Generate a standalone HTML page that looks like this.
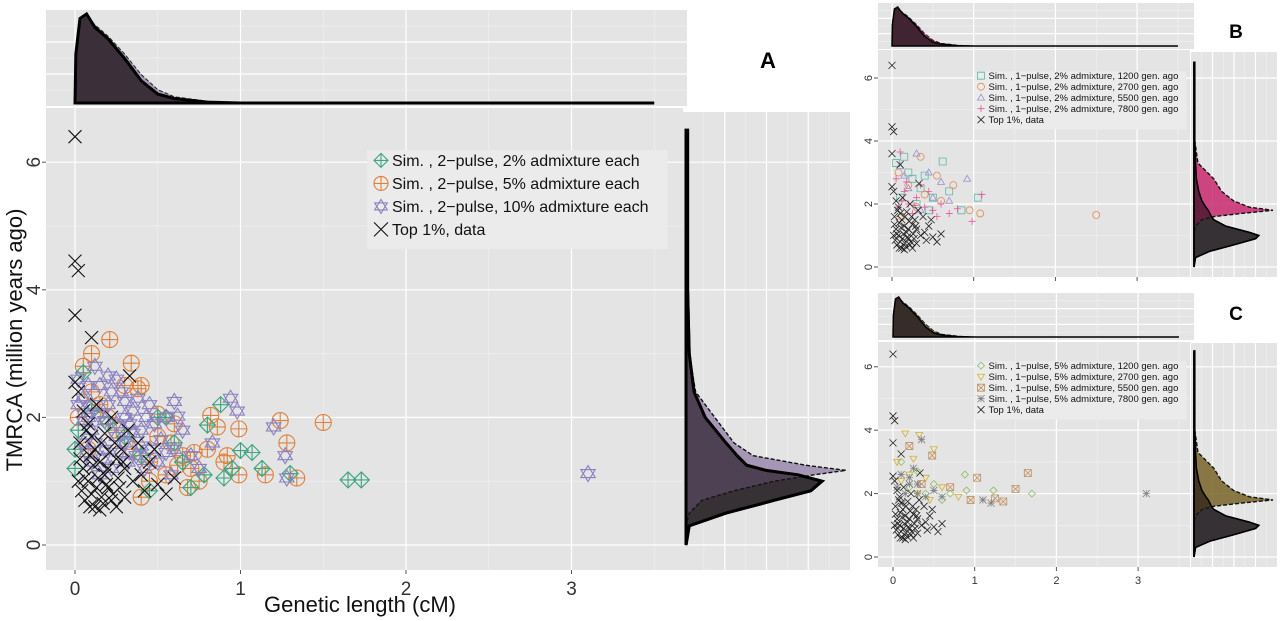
<!DOCTYPE html>
<html><head><meta charset="utf-8"><style>
body{margin:0;background:#fff;}
svg{display:block;font-family:"Liberation Sans",sans-serif;}
</style></head><body>
<svg id="fig" width="1280" height="621" viewBox="0 0 1280 621" xmlns="http://www.w3.org/2000/svg"></svg>
<script>
// ---------- DATA ----------
const dataPts=[[0,6.4],[0,4.45],[0.02,4.3],[0,3.6],[0.1,3.25],[0.33,2.65],[0,2.55],[0.02,2.4],[0.05,2.1],[0.08,1.9],[0.1,1.7],[0.12,1.5],[0.15,1.3],[0.18,1.1],[0.2,0.9],[0.22,0.7],[0.25,0.6],[0.05,1.2],[0.08,1.0],[0.1,0.8],[0.12,0.6],[0.15,0.55],[0.3,1.2],[0.35,1.0],[0.28,1.5],[0.32,1.8],[0.4,1.1],[0.45,1.3],[0.5,0.95],[0.55,0.8],[0.6,1.05],[0.03,1.6],[0.06,0.7],[0.18,1.75],[0.22,2.0],[0.25,1.35],[0.02,1.0],[0.13,2.2],[0.38,1.6],[0.17,0.65],[0.27,0.9],[0.09,1.4],[0.2,1.2],[0.14,1.05],[0.24,1.6],[0.04,0.85],[0.3,0.75],[0.42,0.85],[0.48,1.5],[0.19,0.95],[0.11,1.25],[0.07,1.8],[0.16,0.75],[0.26,1.05],[0.09,0.6],[0.21,1.45],[0.03,1.35],[0.13,0.9],[0.23,0.8],[0.06,1.05],[0.16,1.6],[0.29,1.3]];
const aPurple=[[0.02,2.6],[0.05,2.3],[0.08,2.0],[0.1,1.8],[0.15,2.5],[0.2,2.2],[0.25,1.9],[0.3,1.6],[0.35,2.1],[0.4,1.8],[0.45,1.5],[0.5,1.3],[0.55,2.0],[0.12,2.8],[0.18,1.5],[0.22,1.2],[0.28,2.4],[0.32,1.3],[0.38,2.3],[0.42,1.2],[0.05,1.6],[0.1,1.3],[0.15,1.1],[0.6,1.5],[0.65,1.8],[0.7,1.4],[0.75,1.2],[0.08,2.5],[0.25,2.6],[0.48,1.9],[0.62,2.02],[0.58,1.1],[0.94,2.3],[0.98,2.1],[0.6,2.25],[1.2,1.85],[1.27,1.4],[1.28,1.05],[3.1,1.12],[0.83,1.6],[0.18,1.95],[0.3,2.0],[0.12,1.6],[0.4,1.55],[0.05,1.95],[0.1,2.2],[0.2,2.65],[0.3,2.25],[0.35,1.75],[0.45,2.2],[0.52,1.65],[0.07,1.45],[0.17,1.35],[0.27,1.45],[0.37,1.4],[0.22,2.4],[0.14,2.05],[0.33,1.9],[0.43,2.0],[0.55,1.45],[0.02,2.2],[0.25,1.7]];
const aOrange=[[0.05,2.8],[0.1,2.4],[0.15,2.2],[0.2,2.0],[0.25,1.8],[0.3,2.5],[0.35,1.5],[0.4,2.5],[0.45,1.3],[0.5,1.7],[0.6,1.9],[0.65,1.4],[0.7,1.2],[0.75,1.0],[0.8,1.5],[0.68,0.9],[0.55,1.1],[0.02,2.0],[0.08,1.5],[0.9,1.3],[0.92,1.4],[0.21,3.22],[0.1,3.0],[0.34,2.85],[1.5,1.92],[1.24,1.95],[1.28,1.6],[1.34,1.05],[0.99,1.82],[0.86,1.85],[0.82,2.03],[0.99,1.1],[1.15,1.1],[0.4,0.75],[0.38,2.45],[0.5,2.05],[0.58,1.6],[0.62,1.25],[0.72,1.45],[0.45,1.0]];
const aGreen=[[0,1.5],[0.02,1.8],[0.05,2.7],[0.1,2.1],[0.2,1.9],[0.3,1.7],[0.4,1.4],[0.5,2.0],[0.6,1.6],[0.65,1.3],[0.78,1.1],[0.9,1.05],[0.95,1.2],[0,1.2],[0.45,0.85],[1.65,1.02],[1.73,1.02],[0.88,2.2],[0.8,1.88],[1.0,1.48],[1.07,1.45],[1.13,1.2],[1.3,1.12],[0.7,0.9],[0.55,2.0]];
const bTeal=[[0.05,3.3],[0.15,3.5],[0.25,2.8],[0.35,2.5],[0.5,2.2],[0.62,3.35],[0.7,2.4],[1.05,2.2],[0.85,1.8],[0.1,2.2],[0.3,2.0],[0.45,1.8],[0.2,3.0],[0.4,2.9]];
const bOrange=[[0.08,3.0],[0.2,2.6],[0.4,2.3],[0.55,2.9],[0.75,2.6],[0.95,1.8],[1.08,1.7],[2.5,1.65],[0.3,1.9],[0.12,1.6],[0.6,2.1],[0.35,3.5]];
const bPurple=[[0.1,3.2],[0.3,3.6],[0.45,3.0],[0.6,2.7],[0.92,2.8],[0.2,2.5],[0.5,2.2],[0.7,2.1],[0.35,1.8],[0.15,2.9]];
const bPink=[[0.1,3.65],[0.05,2.8],[0.15,2.4],[0.2,2.0],[0.3,2.2],[0.4,1.9],[0.5,1.8],[0.6,2.0],[0.7,1.7],[0.8,1.85],[0.98,1.45],[1.1,2.3],[0.25,1.7],[0.12,2.1],[0.35,2.6],[0.45,2.4],[0.08,1.9],[0.18,2.7],[0.28,1.95],[0.55,1.6]];
const cGreen=[[0.1,3.0],[0.3,2.7],[0.5,2.3],[0.7,2.0],[0.88,2.6],[0.9,2.1],[1.23,2.1],[1.7,2.0],[0.2,2.2],[0.6,1.8],[0.4,2.0]];
const cYellow=[[0.15,3.9],[0.32,3.85],[0.5,3.4],[0.05,3.0],[0.2,2.6],[0.4,2.5],[0.6,2.2],[0.8,1.9],[0.3,2.0],[0.1,2.4],[0.45,1.8],[0.25,3.1]];
const cBrown=[[0.2,3.5],[0.48,3.2],[1.03,2.5],[1.65,2.65],[1.5,2.15],[1.25,1.85],[1.35,1.75],[0.7,2.2],[0.35,2.3],[0.95,1.8]];
const cGrey=[[0.1,2.6],[0.2,2.3],[0.3,2.0],[0.4,1.9],[0.15,2.0],[0.25,2.8],[0.05,2.2],[0.5,2.1],[0.35,3.7],[1.1,1.8],[1.2,1.7],[3.1,2.0],[0.6,1.9],[0.12,1.7],[0.2,2.5],[0.3,2.3]];
const topX=[0,0.005,0.03,0.07,0.12,0.2,0.3,0.4,0.5,0.6,0.8,1,3.5];
const topDataD=[0,0.55,0.95,1,0.85,0.72,0.5,0.25,0.1,0.05,0.01,0,0];
const topSimD=[0,0.6,0.9,0.96,0.88,0.75,0.55,0.32,0.15,0.07,0.02,0,0];
const rY=[0,0.3,0.5,0.7,0.85,1.0,1.1,1.17,1.25,1.4,1.6,2.0,2.4,3,4,6.5];
const rDataA=[0,0.02,0.25,0.55,0.78,0.85,0.7,0.5,0.38,0.32,0.25,0.12,0.05,0.02,0.01,0.01];
const rSimA=[0,0,0.02,0.1,0.3,0.55,0.8,1,0.75,0.42,0.3,0.18,0.06,0.02,0.01,0];
const rYB=[0,0.3,0.5,0.7,0.9,1.0,1.1,1.3,1.5,1.6,1.7,1.8,1.9,2.1,2.4,2.8,3.3,4,6.5];
const rDataB=[0,0.02,0.2,0.5,0.78,0.82,0.7,0.4,0.25,0.22,0.2,0.18,0.15,0.1,0.06,0.03,0.02,0.01,0.01];
const rSimB=[0,0,0,0,0,0,0,0.02,0.1,0.25,0.6,1,0.7,0.5,0.35,0.25,0.05,0.01,0];
const legA=["Sim. , 2\u2212pulse, 2% admixture each","Sim. , 2\u2212pulse, 5% admixture each","Sim. , 2\u2212pulse, 10% admixture each","Top 1%, data"];
const legB=["Sim. , 1\u2212pulse, 2% admixture, 1200 gen. ago","Sim. , 1\u2212pulse, 2% admixture, 2700 gen. ago","Sim. , 1\u2212pulse, 2% admixture, 5500 gen. ago","Sim. , 1\u2212pulse, 2% admixture, 7800 gen. ago","Top 1%, data"];
const legC=["Sim. , 1\u2212pulse, 5% admixture, 1200 gen. ago","Sim. , 1\u2212pulse, 5% admixture, 2700 gen. ago","Sim. , 1\u2212pulse, 5% admixture, 5500 gen. ago","Sim. , 1\u2212pulse, 5% admixture, 7800 gen. ago","Top 1%, data"];
const xTicks=[0,1,2,3], yTicks=[0,2,4,6];

// ---------- DRAW ----------
const NS="http://www.w3.org/2000/svg", svg=document.getElementById('fig');
function E(tag,at,par){const e=document.createElementNS(NS,tag);for(const k in at)e.setAttribute(k,at[k]);(par||svg).appendChild(e);return e;}
function marker(g,shape,cx,cy,r,col,sw){
  let d;
  if(shape==='xx')d=`M${cx-r},${cy-r}L${cx+r},${cy+r}M${cx-r},${cy+r}L${cx+r},${cy-r}`;
  else if(shape==='dplus')d=`M${cx},${cy-r}L${cx+r},${cy}L${cx},${cy+r}L${cx-r},${cy}ZM${cx},${cy-r}V${cy+r}M${cx-r},${cy}H${cx+r}`;
  else if(shape==='oplus')d=`M${cx-r},${cy}a${r},${r} 0 1,0 ${2*r},0a${r},${r} 0 1,0 ${-2*r},0M${cx},${cy-r}V${cy+r}M${cx-r},${cy}H${cx+r}`;
  else if(shape==='star'){const h=r*0.9;d=`M${cx},${cy-r}L${cx+h},${cy+r*0.5}L${cx-h},${cy+r*0.5}ZM${cx},${cy+r}L${cx+h},${cy-r*0.5}L${cx-h},${cy-r*0.5}Z`;}
  else if(shape==='sq')d=`M${cx-r},${cy-r}h${2*r}v${2*r}h${-2*r}Z`;
  else if(shape==='sqx')d=`M${cx-r},${cy-r}h${2*r}v${2*r}h${-2*r}ZM${cx-r},${cy-r}L${cx+r},${cy+r}M${cx-r},${cy+r}L${cx+r},${cy-r}`;
  else if(shape==='o')d=`M${cx-r},${cy}a${r},${r} 0 1,0 ${2*r},0a${r},${r} 0 1,0 ${-2*r},0`;
  else if(shape==='tri')d=`M${cx},${cy-r}L${cx+r},${cy+r*0.7}L${cx-r},${cy+r*0.7}Z`;
  else if(shape==='tridn')d=`M${cx},${cy+r}L${cx+r},${cy-r*0.7}L${cx-r},${cy-r*0.7}Z`;
  else if(shape==='plus')d=`M${cx},${cy-r}V${cy+r}M${cx-r},${cy}H${cx+r}`;
  else if(shape==='dia')d=`M${cx},${cy-r}L${cx+r},${cy}L${cx},${cy+r}L${cx-r},${cy}Z`;
  else d=`M${cx-r},${cy-r}L${cx+r},${cy+r}M${cx-r},${cy+r}L${cx+r},${cy-r}M${cx},${cy-r}V${cy+r}M${cx-r},${cy}H${cx+r}`;
  return E('path',{d:d,stroke:col,'stroke-width':sw,fill:'none'},g);
}
function panel(P){
  const sx=v=>P.x0+v*P.kx, sy=v=>P.y0-v*P.ky;
  const bg=E('rect',{x:P.L,y:P.T,width:P.R-P.L,height:P.B-P.T,fill:'#e4e4e4'});
  
  
  for(let v=0.5;v<3.6;v+=1)E('line',{x1:sx(v),x2:sx(v),y1:P.T,y2:P.B,stroke:'#f2f2f2','stroke-width':0.6});
  for(let v=1;v<7;v+=2)E('line',{x1:P.L,x2:P.R,y1:sy(v),y2:sy(v),stroke:'#f2f2f2','stroke-width':0.6});
  xTicks.forEach(t=>{E('line',{x1:sx(t),x2:sx(t),y1:P.T,y2:P.B,stroke:'#fff','stroke-width':1.2});E('line',{x1:sx(t),x2:sx(t),y1:P.B,y2:P.B+4,stroke:'#555'});
    if(P.xlab){const tx=E('text',{x:sx(t),y:P.B+P.fs+6,'text-anchor':'middle','font-size':P.fs,fill:'#333'});tx.textContent=t;
    
    }});
  yTicks.forEach(t=>{E('line',{x1:P.L,x2:P.R,y1:sy(t),y2:sy(t),stroke:'#fff','stroke-width':1.2});E('line',{x1:P.L-4,x2:P.L,y1:sy(t),y2:sy(t),stroke:'#555'});
    const tx=E('text',{x:P.L-6,y:sy(t),'text-anchor':'middle','font-size':P.fs,fill:'#333',transform:`rotate(-90 ${P.L-6} ${sy(t)})`});tx.textContent=t;
    
    });
  P.series.forEach(s=>{const g=E('g',{});
    
    
    s.pts.forEach(p=>marker(g,s.shape,sx(p[0]),sy(p[1]),s.r||P.r,s.col,P.sw));});
  const lg=E('g',{});
  
  
  E('rect',{x:P.lx-P.lh*0.6,y:P.ly-P.lh*0.7,width:P.lw,height:P.lh*P.leg.length+P.lh*0.3,fill:'#ebebeb'},lg);
  P.leg.forEach((t,i)=>{const s=P.legSeries[i];const yy=P.ly+i*P.lh;
    marker(lg,s.shape,P.lx,yy-P.lfs*0.35,P.lr,s.col,P.sw);
    const tx=E('text',{x:P.lx+P.lr+4,y:yy,'font-size':P.lfs,fill:'#111'},lg);tx.textContent=t;
    
    });
  const tg=E('g',{});
  
  
  E('rect',{x:P.L,y:P.tT,width:P.R-P.L+4,height:P.tB-P.tT,fill:'#e4e4e4'},tg);
  [0.5,1.5,2.5,3.5].forEach(v=>E('line',{x1:sx(v),x2:sx(v),y1:P.tT,y2:P.tB,stroke:'#f2f2f2','stroke-width':0.6},tg));
  xTicks.forEach(t=>E('line',{x1:sx(t),x2:sx(t),y1:P.tT,y2:P.tB,stroke:'#fff','stroke-width':1.2},tg));
  for(let i=1;i<6;i++){const yy=P.tT+(P.tB-P.tT)*i/6;E('line',{x1:P.L,x2:P.R+4,y1:yy,y2:yy,stroke:i%2?'#f2f2f2':'#fff','stroke-width':i%2?0.6:1.2},tg);}
  const base=P.tB-3, hh=base-P.tT-4;
  const tp=d=>'M'+topX.map((x,i)=>`${sx(x)},${base-d[i]*hh}`).join('L')+'Z';
  E('path',{d:tp(topSimD),fill:P.simFill,stroke:'#222','stroke-width':1,'stroke-dasharray':'4 2'},tg);
  E('path',{d:tp(topDataD),fill:'rgba(40,30,35,0.85)',stroke:'#000','stroke-width':P.lwid},tg);
  const rg=E('g',{});
  
  
  E('rect',{x:P.rL,y:P.rT,width:P.rR-P.rL,height:P.B-P.rT,fill:'#e4e4e4'},rg);
  for(let i=1;i<8;i++){const xx=P.rL+(P.rR-P.rL)*i/8;E('line',{x1:xx,x2:xx,y1:P.rT,y2:P.B,stroke:i%2?'#f2f2f2':'#fff','stroke-width':i%2?0.6:1.2},rg);}
  yTicks.forEach(t=>E('line',{x1:P.rL,x2:P.rR,y1:sy(t),y2:sy(t),stroke:'#fff','stroke-width':1.2},rg));
  const bx=P.rL+3, ww=P.rR-bx-4;
  const rp=(ys,d)=>`M${bx},${sy(ys[0])}L`+ys.map((y,i)=>`${bx+d[i]*ww},${sy(y)}`).join('L')+`L${bx},${sy(ys[ys.length-1])}Z`;
  E('path',{d:rp(P.rY,P.rData),fill:'#555',stroke:'#000','stroke-width':P.lwid},rg);
  E('path',{d:rp(P.rY,P.rSim),fill:P.simFill,stroke:'#111','stroke-width':1.4,'stroke-dasharray':'4 2'},rg);
  E('path',{d:rp(P.rY,P.rData),fill:'rgba(30,20,25,0.55)',stroke:'#000','stroke-width':P.lwid},rg);
  E('line',{x1:bx,x2:bx,y1:sy(0),y2:sy(6.5),stroke:'#000','stroke-width':P.lwid},rg);
  const lab=E('text',{x:P.labX,y:P.labY,'font-size':P.labFs,'font-weight':'bold','text-anchor':'middle',fill:'#000'});lab.textContent=P.id;
  
  
}
const sA=[{name:'series-2pct',shape:'dplus',col:'#3aa57f',pts:aGreen},{name:'series-5pct',shape:'oplus',col:'#e0803a',pts:aOrange},{name:'series-10pct',shape:'star',col:'#8a80c0',pts:aPurple},{name:'series-data',shape:'xx',col:'#111',pts:dataPts,r:6.5}];
panel({id:'A',L:46,R:683,T:108,B:570,x0:75,kx:165.5,y0:545,ky:63.8,fs:19,xlab:true,r:8,sw:1.1,
 series:[sA[1],sA[0],sA[2],sA[3]],leg:legA,legSeries:sA,lx:381,ly:166,lh:23,lw:300,lfs:16,lr:7,
 tT:10,tB:106,simFill:'rgba(150,130,170,0.8)',lwid:3,rL:683,rR:850,rT:112,rY:rY,rData:rDataA,rSim:rSimA,labX:768,labY:68,labFs:22});
const xl=E('text',{x:360,y:612,'text-anchor':'middle','font-size':22,fill:'#111'});xl.textContent='Genetic length (cM)';


const yl=E('text',{x:22,y:340,'text-anchor':'middle','font-size':22,fill:'#111',transform:'rotate(-90 22 340)'});yl.textContent='TMRCA (million years ago)';


const sB=[{name:'series-1200',shape:'sq',col:'#5bb9a8',pts:bTeal},{name:'series-2700',shape:'o',col:'#e08a4a',pts:bOrange},{name:'series-5500',shape:'tri',col:'#9990cc',pts:bPurple},{name:'series-7800',shape:'plus',col:'#e8559a',pts:bPink},{name:'series-data',shape:'xx',col:'#222',pts:dataPts}];
panel({id:'B',L:878,R:1190,T:50,B:277,x0:892,kx:81.7,y0:267,ky:31.5,fs:11,xlab:false,r:3.5,sw:0.8,
 series:sB,leg:legB,legSeries:sB,lx:981,ly:79,lh:11,lw:212,lfs:9.5,lr:3.5,
 tT:3,tB:49,simFill:'rgba(200,40,110,0.85)',lwid:1.5,rL:1191,rR:1277,rT:52,rY:rYB,rData:rDataB,rSim:rSimB,labX:1236,labY:38,labFs:19});
const sC=[{name:'series-1200',shape:'dia',col:'#8fbf60',pts:cGreen},{name:'series-2700',shape:'tridn',col:'#d4b030',pts:cYellow},{name:'series-5500',shape:'sqx',col:'#c09060',pts:cBrown},{name:'series-7800',shape:'ast',col:'#808080',pts:cGrey},{name:'series-data',shape:'xx',col:'#222',pts:dataPts}];
panel({id:'C',L:878,R:1190,T:342,B:567,x0:893,kx:81.7,y0:557,ky:31.7,fs:11,xlab:true,r:3.5,sw:0.8,
 series:sC,leg:legC,legSeries:sC,lx:981,ly:369,lh:11,lw:212,lfs:9.5,lr:3.5,
 tT:293,tB:340,simFill:'rgba(120,100,40,0.85)',lwid:1.5,rL:1191,rR:1277,rT:343,rY:rYB,rData:rDataB,rSim:rSimB,labX:1236,labY:320,labFs:19});
</script>
</body></html>
